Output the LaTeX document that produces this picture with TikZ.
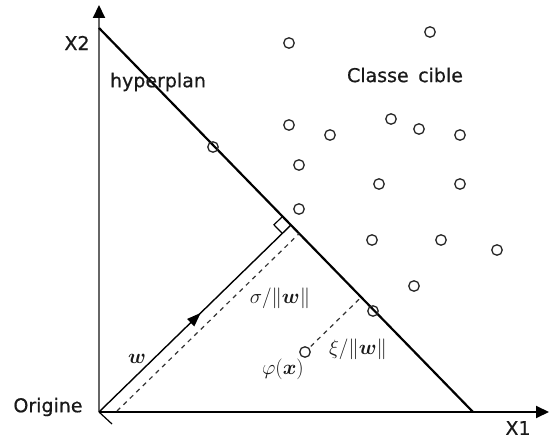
\documentclass[tikz,border=0pt]{standalone}
\usepackage{amsmath}
\usepackage{fontspec}
\setmainfont[FakeBold=0.6]{DejaVu Sans}
\usetikzlibrary{arrows.meta,calc}
\begin{document}
\begin{tikzpicture}[x=1pt,y=-1pt,
  pt/.style={circle,draw=black!85,line width=1.3pt,minimum size=10.5pt,inner sep=0pt},
  lbl/.style={font=\fontsize{19}{22}\selectfont,text=black!90,inner sep=0pt},
  mlbl/.style={font=\fontsize{21}{24}\selectfont,text=black!90,inner sep=0pt},
  axis/.style={line width=2pt,-{Triangle[length=13pt,width=12pt,black]}},
  dsh/.style={line width=1.2pt,black!80,dash pattern=on 4.5pt off 4.5pt},
]
\useasboundingbox (0,0) rectangle (550,441);
\coordinate (O) at (99,412);
\coordinate (X1e) at (549,412);
\coordinate (X2e) at (99,5);
\coordinate (H1) at (99,28);
\coordinate (H2) at (473,412);
\coordinate (F) at ($(H1)!(O)!(H2)$);
% axes
\draw[axis] (O) -- (X1e);
\draw[axis,black!60] (O) -- (X2e);
% hyperplane
\draw[line width=2.2pt] (H1) -- (H2);
% w vector
\draw[line width=1.4pt,-{Triangle[length=14pt,width=10pt]}] (O) -- ($(O)!0.53!(F)$);
\draw[line width=1.4pt] ($(O)!0.5!(F)$) -- (F);
% right angle
\coordinate (ua) at ($(F)!12pt!(H1)$);
\coordinate (ub) at ($(F)!12pt!(O)$);
\draw[line width=1.2pt] (ua) -- ($(ua)+(ub)-(F)$) -- (ub);
% tick at origin
\coordinate (tk) at ($(O)+(13,12)$);
\draw[line width=1.2pt] (O) -- (tk);
% dashed margin line
\coordinate (D1) at (117,411);
\coordinate (D2) at ($(H1)!(D1)!(H2)$);
\draw[dsh] (D1) -- (D2);
% points
\foreach \i/\p in {1/{(289,43)},2/{(430,32)},3/{(289,125)},4/{(330,135)},5/{(391,119)},
  6/{(419,129)},7/{(460,135)},8/{(299,165)},9/{(379,184)},10/{(460,184)},11/{(299,209)},
  12/{(372,240)},13/{(441,240)},14/{(497,250)},15/{(414,286)},16/{(213,147)},17/{(373,311)}}
  \node[pt] (c\i) at \p {};
\node[pt] (p) at (305,352) {};
\coordinate (pr) at ($(H1)!(p)!(H2)$);
\draw[dsh] ($(p)!8pt!(pr)$) -- (pr);
% labels
\node[lbl] (lx2) at (77,43) {X2};
\node[lbl] (lx1) at (518,428) {X1};
\node[lbl] (lor) at (48,407) {Origine};
\node[lbl] (lhy) at (158,82) {hyperplan};
\node[lbl] (lcl) at (405,75) {Classe\hspace{0.5em}cible};
\node[mlbl] (lw) at (137,359) {$\boldsymbol{w}$};
\node[mlbl] (lsig) at (280,298) {$\sigma/\|\boldsymbol{w}\|$};
\node[mlbl] (lxi) at (358,349) {$\xi/\|\boldsymbol{w}\|$};
\node[mlbl] (lphi) at (283,369) {$\varphi(\boldsymbol{x})$};
\end{tikzpicture}
\end{document}
